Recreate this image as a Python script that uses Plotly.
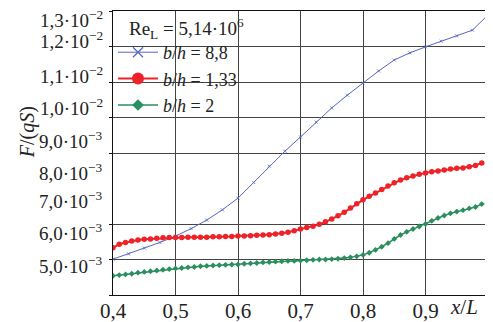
import plotly.graph_objects as go
import numpy as np

# x/L positions of the measured points
x_fine = [0.40, 0.41, 0.42, 0.43, 0.44, 0.45, 0.46, 0.47, 0.48, 0.49,
          0.50, 0.51, 0.52, 0.53, 0.54, 0.55, 0.56, 0.57, 0.58, 0.59,
          0.60, 0.61, 0.62, 0.63, 0.64, 0.65, 0.66, 0.67, 0.68, 0.69,
          0.70, 0.71, 0.72, 0.73, 0.74, 0.75, 0.76, 0.77, 0.78, 0.79,
          0.80, 0.81, 0.82, 0.83, 0.84, 0.85, 0.86, 0.87, 0.88, 0.89,
          0.90, 0.91, 0.92, 0.93, 0.94, 0.95, 0.96, 0.97, 0.98, 0.99]

# b/h = 1,33  (values in units of 1e-3)
red_vals = [5.33, 5.43, 5.48, 5.52, 5.55, 5.57, 5.58, 5.60, 5.61, 5.62,
            5.62, 5.62, 5.63, 5.63, 5.63, 5.63, 5.64, 5.64, 5.65, 5.65,
            5.66, 5.66, 5.67, 5.68, 5.69, 5.70, 5.72, 5.74, 5.77, 5.81,
            5.86, 5.90, 5.94, 5.99, 6.06, 6.14, 6.23, 6.33, 6.45, 6.57,
            6.68, 6.78, 6.87, 6.97, 7.07, 7.16, 7.24, 7.30, 7.35, 7.40,
            7.44, 7.47, 7.49, 7.52, 7.55, 7.57, 7.58, 7.61, 7.65, 7.72]

# b/h = 2
green_vals = [4.54, 4.56, 4.58, 4.60, 4.63, 4.65, 4.67, 4.69, 4.71, 4.73,
              4.75, 4.76, 4.78, 4.79, 4.81, 4.82, 4.83, 4.84, 4.85, 4.86,
              4.86, 4.88, 4.89, 4.90, 4.92, 4.93, 4.94, 4.95, 4.96, 4.96,
              4.97, 4.98, 4.99, 5.00, 5.00, 5.01, 5.02, 5.04, 5.06, 5.09,
              5.13, 5.19, 5.27, 5.36, 5.46, 5.58, 5.69, 5.78, 5.86, 5.93,
              6.00, 6.09, 6.17, 6.24, 6.30, 6.35, 6.39, 6.44, 6.48, 6.56]

# b/h = 8,8
x_blue = [0.400, 0.425, 0.450, 0.475, 0.500, 0.525, 0.550, 0.575, 0.600,
          0.625, 0.650, 0.675, 0.700, 0.725, 0.750, 0.775, 0.800, 0.825,
          0.850, 0.875, 0.900, 0.925, 0.950, 0.975, 1.000]
blue_vals = [5.01, 5.16, 5.32, 5.48, 5.66, 5.87, 6.11, 6.40, 6.73,
             7.17, 7.63, 8.05, 8.45, 8.87, 9.27, 9.63, 9.97, 10.31,
             10.62, 10.82, 10.99, 11.15, 11.30, 11.46, 11.89]

x_ticks = [0.4, 0.5, 0.6, 0.7, 0.8, 0.9, 1.0]
x_ticktext = ["0,4", "0,5", "0,6", "0,7", "0,8", "0,9", ""]

grid_y = [0.004, 0.005, 0.006, 0.008, 0.009, 0.010, 0.011, 0.012]

y_label_text = ["5,0·10<sup>−3</sup>", "6,0·10<sup>−3</sup>", "7,0·10<sup>−3</sup>",
                "8,0·10<sup>−3</sup>", "9,0·10<sup>−3</sup>", "1,0·10<sup>−2</sup>",
                "1,1·10<sup>−2</sup>", "1,2·10<sup>−2</sup>", "1,3·10<sup>−2</sup>"]
y_label_pos = [0.004845, 0.005775, 0.006676, 0.007465, 0.008366,
               0.009296, 0.010197, 0.011183, 0.011780]

scale = 1e-3
red = np.array(red_vals) * scale
green = np.array(green_vals) * scale
blue = np.array(blue_vals) * scale

SERIF = "Liberation Serif, Times New Roman, DejaVu Serif, serif"
RED = "#ee2228"
GREEN = "#2a8f5e"
BLUE = "#5566c4"

fig = go.Figure()

fig.add_trace(go.Scatter(x=x_blue, y=blue, mode="lines+markers", showlegend=False,
                         line=dict(color=BLUE, width=1),
                         marker=dict(symbol="x-thin", size=3, color=BLUE,
                                     line=dict(color=BLUE, width=0.8))))
fig.add_trace(go.Scatter(x=x_fine, y=red, mode="lines+markers", showlegend=False,
                         line=dict(color=RED, width=2),
                         marker=dict(symbol="circle", size=5.5, color=RED)))
fig.add_trace(go.Scatter(x=x_fine, y=green, mode="lines+markers", showlegend=False,
                         line=dict(color=GREEN, width=1.5),
                         marker=dict(symbol="diamond", size=4.5, color=GREEN)))

# legend entries
fig.add_trace(go.Scatter(x=[None], y=[None], mode="lines+markers",
                         name="<i>b</i>/<i>h</i> = 8,8",
                         line=dict(color=BLUE, width=1),
                         marker=dict(symbol="x-thin", size=10, color=BLUE,
                                     line=dict(color=BLUE, width=1.2))))
fig.add_trace(go.Scatter(x=[None], y=[None], mode="lines+markers",
                         name="<i>b</i>/<i>h</i> = 1,33",
                         line=dict(color=RED, width=2),
                         marker=dict(symbol="circle", size=12, color=RED)))
fig.add_trace(go.Scatter(x=[None], y=[None], mode="lines+markers",
                         name="<i>b</i>/<i>h</i> = 2",
                         line=dict(color=GREEN, width=1.5),
                         marker=dict(symbol="diamond", size=9, color=GREEN)))

# The page adds an 8px body margin, so the figure is sized to the visible area.
fig.update_layout(
    width=485, height=314,
    margin=dict(l=105, r=5, t=3, b=27, autoexpand=False),
    paper_bgcolor="white", plot_bgcolor="white",
    font=dict(family=SERIF, color="#222", size=20),
    xaxis=dict(range=[0.4, 1.0], tickvals=x_ticks, ticktext=x_ticktext,
               showgrid=True, gridcolor="#444", gridwidth=1,
               showline=True, linecolor="#111", linewidth=1, mirror=True,
               ticks="", ticklabelstandoff=-3, automargin=False,
               tickfont=dict(family=SERIF, size=21, color="#222"),
               zeroline=False),
    yaxis=dict(range=[0.004, 0.012], tickvals=grid_y, showticklabels=False,
               showgrid=True, gridcolor="#444", gridwidth=1,
               showline=True, linecolor="#111", linewidth=1, mirror=True,
               ticks="outside", ticklen=3, tickcolor="#111", zeroline=False,
               automargin=False),
    legend=dict(x=0.0, y=0.919, xanchor="left", yanchor="top",
                bgcolor="rgba(0,0,0,0)", borderwidth=0,
                font=dict(family=SERIF, size=18, color="#222"),
                itemwidth=40, tracegroupgap=0),
    showlegend=True,
)

# legend heading
fig.add_annotation(text="Re<sub>L</sub> = 5,14·10<sup>6</sup>", xref="paper", yref="paper",
                   x=0.037, y=0.94, xanchor="left", yanchor="middle", showarrow=False,
                   font=dict(family=SERIF, size=19, color="#222"))

for txt, pos in zip(y_label_text, y_label_pos):
    fig.add_annotation(text=txt, xref="paper", yref="y", x=-0.021, y=pos,
                       xanchor="right", yanchor="middle", showarrow=False,
                       font=dict(family=SERIF, size=19, color="#222"))

fig.add_annotation(text="<i>F</i>/(<i>qS</i>)", xref="paper", yref="paper",
                   x=-0.262, y=0.574, textangle=-90, showarrow=False,
                   font=dict(family=SERIF, size=20, color="#222"))
fig.add_annotation(text="<i>x</i>/<i>L</i>", xref="x", yref="paper",
                   x=0.962, y=-0.042, yanchor="middle", showarrow=False,
                   font=dict(family=SERIF, size=21, color="#222"))

fig.write_html("out.html")
